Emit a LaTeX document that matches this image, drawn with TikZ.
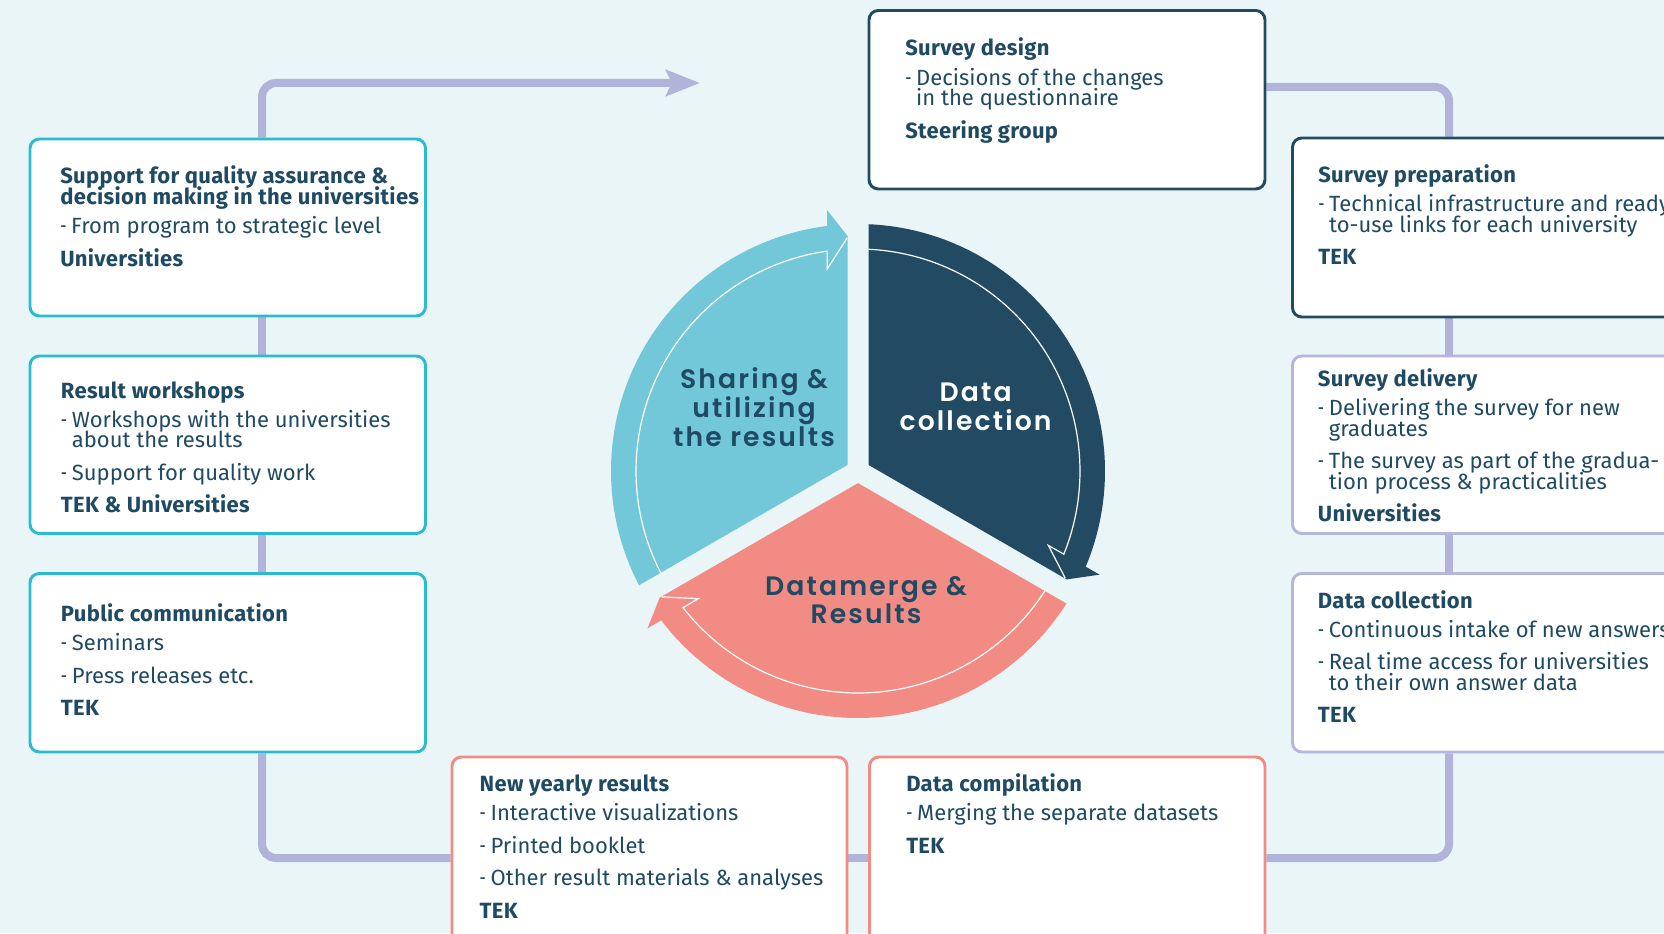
\documentclass[tikz,border=0pt]{standalone}
\usepackage{fontspec}
\usepackage{graphicx}
\setmainfont{Fira Sans}[BoldFeatures={LetterSpace=1.5}]
\newfontfamily\popfont{Poppins}[UprightFont={* SemiBold}, LetterSpace=8]
\usetikzlibrary{fit,arrows.meta}
\definecolor{bgC}{HTML}{EAF5F7}
\definecolor{ink}{HTML}{1F4A63}
\definecolor{connC}{HTML}{B1B3DB}
\definecolor{cyanB}{HTML}{2BBBD1}
\definecolor{navyB}{HTML}{224A62}
\definecolor{lavB}{HTML}{B4B6DE}
\definecolor{salB}{HTML}{F28B84}
\definecolor{lbC}{HTML}{72C7D9}
\definecolor{navC}{HTML}{224A62}
\definecolor{salC}{HTML}{F28B84}
\pgfdeclarelayer{bg}
\pgfsetlayers{bg,main}
\newcommand\bxT[1]{\hbox{\bfseries #1}}
\newcommand\bxL[1]{\hbox{\makebox[8.2pt][l]{\scalebox{0.7}[1]{-}}#1}}
\newcommand\bxH[1]{\hbox{\hspace*{8.2pt}#1}}
\newcommand\gA{\vskip6.4pt}
\newcommand\gB{\vskip9pt}
\newcommand\bxt[1]{\vtop{\lineskiplimit=-100pt\baselineskip=15.4pt\relax #1}}
\newcommand\ctrt[1]{\vtop{\lineskiplimit=-100pt\baselineskip=21.5pt\relax #1}}
\newcommand\cl[1]{\hbox to 0pt{\hss#1\hss}}
\tikzset{
  box/.style={draw=#1, line width=2.2pt, rounded corners=7pt, fill=white, inner sep=0pt},
  conn/.style={draw=connC, line width=6pt},
  txt/.style={anchor=base west, inner sep=0pt, text=ink, font=\fontsize{16.5pt}{15.4pt}\selectfont},
  ctr/.style={anchor=base, inner sep=0pt, font=\popfont\fontsize{20pt}{21.5pt}\selectfont},
}
\begin{document}
\begin{tikzpicture}[x=0.75pt,y=0.75pt]
\useasboundingbox (0,0) rectangle (1664,933);
\clip (0,0) rectangle (1664,933);
\begin{pgfonlayer}{bg}
\fill[bgC] (0,0) rectangle (1664,933);
\end{pgfonlayer}

% boxes
\node[box=cyanB, fit={(30,617) (425.5,794)}] (A) {};
\node[box=cyanB, fit={(30,399.5) (425.5,577)}] (B) {};
\node[box=cyanB, fit={(30,181) (425.5,359.5)}] (C) {};
\node[box=navyB, fit={(869,744) (1265,922.5)}] (SD) {};
\node[box=navyB, fit={(1292.5,616) (1720,795)}] (SP) {};
\node[box=lavB, fit={(1292.5,399.5) (1720,577)}] (SDel) {};
\node[box=lavB, fit={(1292.5,181) (1720,359.5)}] (DCol) {};
\node[box=salB, fit={(452,-40) (847,176)}] (NY) {};
\node[box=salB, fit={(869.5,-40) (1265,176)}] (DC) {};

% connectors
\coordinate (lx) at (262,0);
\coordinate (rx) at (1449,0);
\coordinate (ty) at (0,846);
\coordinate (by) at (0,75);
\coordinate (tl) at (700,850);
\begin{pgfonlayer}{bg}
\draw[conn, rounded corners=10.5pt, -{Stealth[length=25.5pt,width=19.5pt,inset=4.5pt]}] (A.north -| lx) |- (tl);
\draw[conn] (A.south -| lx) -- (B.north -| lx);
\draw[conn] (B.south -| lx) -- (C.north -| lx);
\draw[conn, rounded corners=10.5pt] (C.south -| lx) |- (NY.west |- by);
\draw[conn] (NY.east |- by) -- (DC.west |- by);
\draw[conn, rounded corners=10.5pt] (DC.east |- by) -| (DCol.south -| rx);
\draw[conn] (DCol.north -| rx) -- (SDel.south -| rx);
\draw[conn] (SDel.north -| rx) -- (SP.south -| rx);
\draw[conn, rounded corners=10.5pt] (SD.east |- ty) -| (SP.north -| rx);
\end{pgfonlayer}

% box texts
\node[txt] (tA) at (60,749) {\bxt{\bxT{Support for quality assurance \&}\bxT{decision making in the universities}\gA
  \bxL{From program to strategic level}\gB\bxT{Universities}}};
\node[txt] (tB) at (60.7,534.7) {\bxt{\bxT{Result workshops}\gA
  \bxL{Workshops with the universities}\bxH{about the results}\gB
  \bxL{Support for quality work}\gB\bxT{TEK \& Universities}}};
\node[txt] (tC) at (60.7,311.3) {\bxt{\bxT{Public communication}\gA
  \bxL{Seminars}\gB\bxL{Press releases etc.}\gB\bxT{TEK}}};
\node[txt] (tSD) at (905,877) {\bxt{\bxT{Survey design}\gA
  \bxL{Decisions of the changes}\bxH{in the questionnaire}\gB\bxT{Steering group}}};
\node[txt] (tSP) at (1318,750.3) {\bxt{\bxT{Survey preparation}\gA
  \bxL{Technical infrastructure and ready-}\bxH{to-use links for each university}\gB\bxT{TEK}}};
\node[txt] (tSDel) at (1317.7,546.3) {\bxt{\bxT{Survey delivery}\gA
  \bxL{Delivering the survey for new}\bxH{graduates}\gB
  \bxL{The survey as part of the gradua-}\bxH{tion process \& practicalities}\gB\bxT{Universities}}};
\node[txt] (tDCol) at (1317.7,324.7) {\bxt{\bxT{Data collection}\gA
  \bxL{Continuous intake of new answers}\gB
  \bxL{Real time access for universities}\bxH{to their own answer data}\gB\bxT{TEK}}};
\node[txt] (tNY) at (479.4,141.3) {\bxt{\bxT{New yearly results}\gA
  \bxL{Interactive visualizations}\gB\bxL{Printed booklet}\gB
  \bxL{Other result materials \& analyses}\gB\bxT{TEK}}};
\node[txt] (tDC) at (906,141.3) {\bxt{\bxT{Data compilation}\gA
  \bxL{Merging the separate datasets}\gB\bxT{TEK}}};

% circular arrows
\foreach \rot/\col in {0/lbC,-120/navC,120/salC}{
  \begin{scope}[shift={(858,462)}, rotate=\rot]
    \fill[\col] (-10.5,6.06) -- (207.56:247) arc[start angle=207.56, end angle=97.2, radius=247]
      -- (-31,261) -- (-10.5,235) -- cycle;
    \draw[white, line width=0.9pt, line join=miter] (207.29:222) arc[start angle=207.29, end angle=98, radius=222]
      -- (-30.7,202.1) -- (-10.8,233.1);
  \end{scope}
}

% center labels
\node[ctr, text=white] (lDC) at (975.6,531.6) {\ctrt{\cl{Data}\cl{collection}}};
\node[ctr, text=ink] (lSU) at (754,544.3) {\ctrt{\cl{Sharing \&}\cl{utilizing}\cl{the results}}};
\node[ctr, text=ink] (lDR) at (866,337.7) {\ctrt{\cl{Datamerge \&}\cl{Results}}};
\end{tikzpicture}
\end{document}
